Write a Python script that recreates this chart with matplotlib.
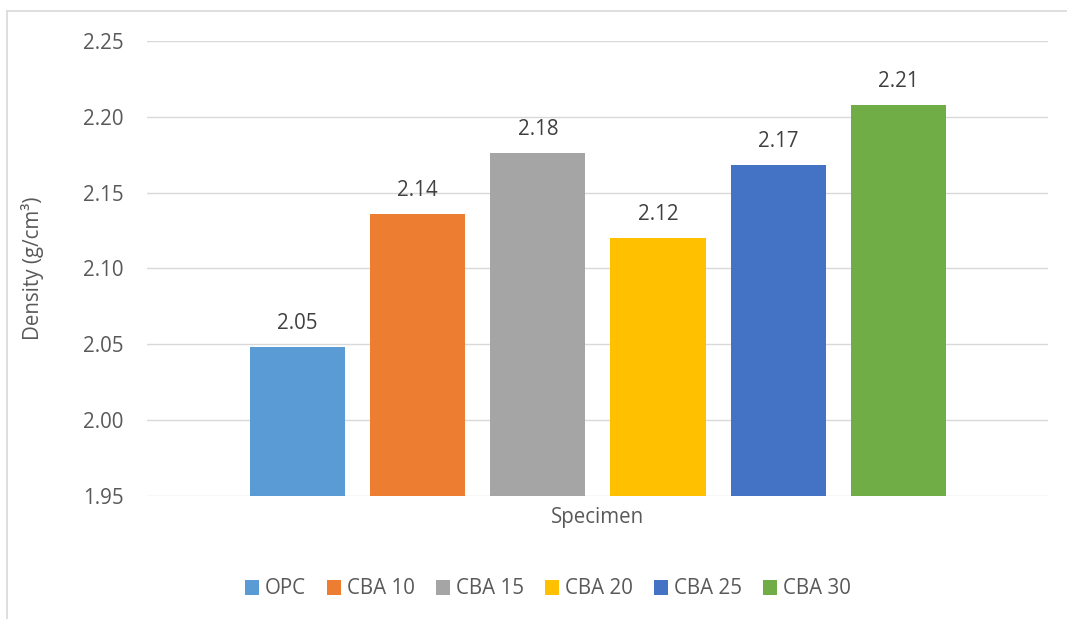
import matplotlib
matplotlib.use("Agg")
import matplotlib.pyplot as plt
from matplotlib.lines import Line2D
from matplotlib.patches import Patch

plt.rcParams['font.family'] = ['Open Sans', 'DejaVu Sans']

# Density of each specimen (g/cm3)
specimens = ["OPC", "CBA 10", "CBA 15", "CBA 20", "CBA 25", "CBA 30"]
density = [2.048, 2.136, 2.176, 2.120, 2.168, 2.208]
colors = ["#5B9BD5", "#ED7D31", "#A5A5A5", "#FFC000", "#4472C4", "#70AD47"]
y_ticks = [1.95, 2.00, 2.05, 2.10, 2.15, 2.20, 2.25]

FS = 14.8
W, H = 1067, 619
fig = plt.figure(figsize=(W / 100, H / 100), dpi=100)
ax = fig.add_axes([147 / W, 1 - 496 / H, (1048 - 147) / W, (496 - 41) / H])

positions = list(range(len(specimens)))
ax.bar(positions, [d - y_ticks[0] for d in density], bottom=y_ticks[0],
       width=95 / 120, color=colors, zorder=3)

for x, d in zip(positions, density):
    ax.annotate(f"{d:.2f}", xy=(x, d), xytext=(0, 13), textcoords="offset points",
                ha="center", va="baseline", fontsize=FS, color="#404040")

ax.set_xlim(-1.254, 5 + 1.246)
ax.set_ylim(y_ticks[0], y_ticks[-1])
ax.set_yticks(y_ticks)
ax.set_yticklabels([f"{t:.2f}" for t in y_ticks])
ax.set_xticks([])
ax.grid(axis="y", color="#D9D9D9", linewidth=1.0, zorder=0)
ax.tick_params(axis="y", length=0, pad=17, labelsize=FS, labelcolor="#595959")
for s in ax.spines.values():
    s.set_visible(False)

fig.text(33 / W, 1 - 268 / H, "Density (g/cm³)", rotation=90, ha="center", va="center",
         fontsize=FS, color="#595959")
fig.text(598 / W, 1 - 518 / H, "Specimen", ha="center", va="center",
         fontsize=FS, color="#595959")

handles = [Patch(facecolor=c, edgecolor="none") for c in colors]
leg = fig.legend(handles, specimens, loc="center", bbox_to_anchor=(548 / W, 1 - 589 / H),
                 ncol=6, frameon=False, fontsize=FS, handlelength=0.7,
                 handleheight=0.7, handletextpad=0.3, columnspacing=1.0)
for t in leg.get_texts():
    t.set_color("#595959")

# chart frame
fig.add_artist(Line2D([7 / W, 7 / W], [0, 1 - 11 / H], transform=fig.transFigure,
                      color="#D9D9D9", linewidth=1.2))
fig.add_artist(Line2D([7 / W, 1], [1 - 11 / H, 1 - 11 / H], transform=fig.transFigure,
                      color="#D9D9D9", linewidth=1.2))

fig.savefig("out.png", dpi=100, facecolor="white")
